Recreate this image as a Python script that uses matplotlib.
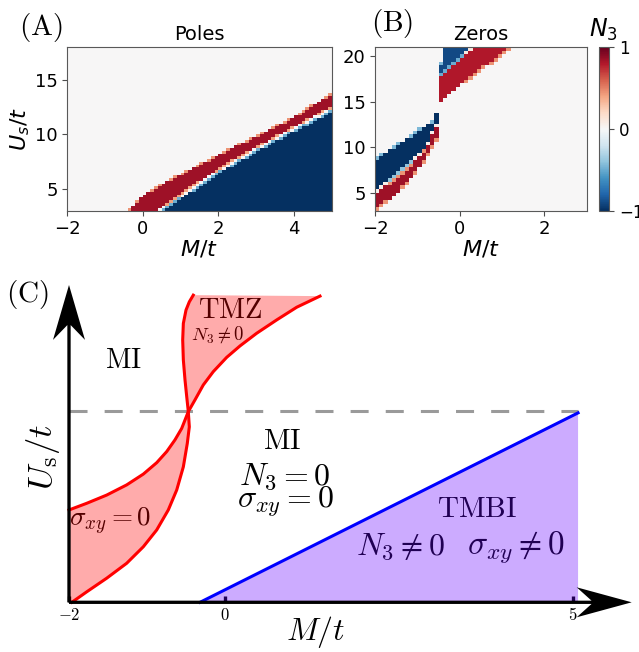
import numpy as np
import matplotlib

matplotlib.use("Agg")
import matplotlib.pyplot as plt

W, H = 639, 652

# ---- panel A (poles): band edges ----
A_M_RANGE = (-2, 5)
A_U_RANGE = (3, 18)
A_NM, A_NU = 70, 60
A_TOP_M = [-0.42, 0, 0.81, 1.61, 2.4, 3.2, 4.0, 5.0]
A_TOP_U = [3.0, 4.5, 6.1, 7.5, 8.95, 10.26, 11.7, 13.8]
A_LOW_M = [0.41, 1.34, 2.23, 3.11, 4.0, 5.0]
A_LOW_U = [3.0, 5.2, 7.2, 8.9, 10.57, 12.4]

# ---- panel B (zeros) ----
B_M_RANGE = (-2, 3)
B_U_RANGE = (3, 21)
B_NM, B_NU = 50, 45
B_TOP_M = [-2.0, -1.34, -0.635, -0.5]
B_TOP_U = [8.8, 10.8, 13.0, 14.4]
B_SPLIT_M = [-2.0, -1.65, -1.18, -0.79, -0.6, -0.5]
B_SPLIT_U = [5.17, 6.27, 8.1, 10.1, 12.1, 12.8]
B_RLOW_M = [-2.0, -1.89, -1.5, -1.1, -0.75, -0.5]
B_RLOW_U = [2.9, 3.4, 4.6, 6.8, 9.0, 11.2]
B_UP_M = [-0.52, -0.085, 0.386, 0.856, 1.25, 1.45]
B_UP_RED_LOW = [14.6, 16.3, 18.1, 19.4, 20.9, 21.6]
B_UP_SPLIT_M = [-0.52, -0.48, -0.16, 0.15, 0.3, 0.4]
B_UP_SPLIT = [17.2, 17.7, 19.0, 20.3, 20.9, 21.4]
B_UP_EDGE_M = [-0.52, -0.36]
B_UP_EDGE_U = [18.0, 20.8]
B_JUMP_M = -0.5

# ---- panel C (schematic phase diagram) ----
C_RED1_X = [-2.0, -1.754, -1.476, -1.199, -0.968, -0.782, -0.643, -0.528, -0.435, -0.343,
            -0.25, -0.135, 0.004, 0.19, 0.375, 0.607, 0.885, 1.163, 1.486]
C_RED1_Y = [0.291, 0.312, 0.338, 0.370, 0.404, 0.440, 0.475, 0.512, 0.548, 0.601,
            0.638, 0.685, 0.727, 0.772, 0.808, 0.848, 0.890, 0.930, 0.965]
C_RED2_X = [-1.96, -1.754, -1.476, -1.199, -0.968, -0.782, -0.621, -0.504, -0.412, -0.357, -0.329,
            -0.343, -0.365, -0.389, -0.412, -0.421, -0.412, -0.375, -0.329, -0.274]
C_RED2_Y = [0.0, 0.033, 0.076, 0.123, 0.175, 0.228, 0.291, 0.354, 0.427, 0.501, 0.553,
            0.601, 0.648, 0.701, 0.764, 0.827, 0.879, 0.921, 0.947, 0.968]
C_CROSS = (-0.343, 0.601)
C_BLUE_X = [-0.18, 5.07]
C_BLUE_Y = [0.0, 0.597]
C_DASH_Y = 0.604
C_XTICKS = [-2, 0.17, 5]
C_XTICKLABELS = ["$-2$", "$0$", "$5$"]


def box(x0, y0, x1, y1):
    return [x0 / W, 1 - y1 / H, (x1 - x0) / W, (y1 - y0) / H]


def centers(lo, hi, n):
    e = np.linspace(lo, hi, n + 1)
    return 0.5 * (e[1:] + e[:-1])


def grid_poles():
    M, U = np.meshgrid(centers(*A_M_RANGE, A_NM), centers(*A_U_RANGE, A_NU))
    top = np.interp(M, A_TOP_M, A_TOP_U, left=0)
    low = np.interp(M, A_LOW_M, A_LOW_U, left=0)
    z = np.zeros_like(M)
    z[U <= top] = 0.45
    z[U <= top - 0.15] = 0.85
    z[U <= low + 0.2] = 0.4
    z[U <= low + 0.05] = 0.0
    z[U <= low - 0.15] = -0.5
    z[U <= low - 0.35] = -1
    return z


def grid_zeros():
    M, U = np.meshgrid(centers(*B_M_RANGE, B_NM), centers(*B_U_RANGE, B_NU))
    bt = np.interp(M, B_TOP_M, B_TOP_U)
    sp = np.interp(M, B_SPLIT_M, B_SPLIT_U)
    rl = np.interp(M, B_RLOW_M, B_RLOW_U)
    zl = np.zeros_like(M)
    zl[U <= bt] = -0.45
    zl[U <= bt - 0.2] = -1
    zl[U <= sp + 0.2] = -0.4
    zl[U <= sp + 0.05] = 0.05
    zl[U <= sp - 0.15] = 0.45
    zl[U <= sp - 0.35] = 0.85
    zl[U <= rl + 0.2] = 0.45
    zl[U <= rl] = 0

    lo = np.interp(M, B_UP_M, B_UP_RED_LOW)
    spu = np.interp(M, B_UP_SPLIT_M, B_UP_SPLIT, right=99)
    edge = np.interp(M, B_UP_EDGE_M, B_UP_EDGE_U, right=99)
    zu = np.zeros_like(M)
    zu[U > lo] = 0.45
    zu[U > lo + 0.3] = 0.8
    zu[U > spu - 0.2] = 0.1
    zu[U > spu + 0.1] = -0.5
    zu[U > spu + 0.4] = -0.9
    zu[(U > edge - 0.3) & (U > spu)] = -0.45
    zu[(U > edge) & (U > spu)] = 0
    zu[U <= lo] = 0
    return np.where(M < B_JUMP_M, zl, zu)


def px2data(px, py):
    return -2 + (px - 69) / 72, (602.3 - py) / 317.3


def main():
    fig = plt.figure(figsize=(W / 100, H / 100), dpi=100)

    heat = dict(cmap="RdBu_r", vmin=-1, vmax=1, origin="lower", aspect="auto",
                interpolation="nearest")

    # (A) poles
    ax_a = fig.add_axes(box(67.3, 47.3, 331.7, 210.7))
    ax_a.imshow(grid_poles(), extent=(*A_M_RANGE, *A_U_RANGE), **heat)
    ax_a.set_xticks([-2, 0, 2, 4])
    ax_a.set_yticks([5, 10, 15])
    ax_a.set_title("Poles", fontsize=14, pad=5)
    ax_a.set_xlabel("$M/t$", fontsize=16, labelpad=0)
    ax_a.set_ylabel("$U_s/t$", fontsize=16, labelpad=2)

    # (B) zeros
    ax_b = fig.add_axes(box(375.3, 47.3, 586.7, 210.7))
    im = ax_b.imshow(grid_zeros(), extent=(*B_M_RANGE, *B_U_RANGE), **heat)
    ax_b.set_xticks([-2, 0, 2])
    ax_b.set_yticks([5, 10, 15, 20])
    ax_b.set_title("Zeros", fontsize=14, pad=5)
    ax_b.set_xlabel("$M/t$", fontsize=16, labelpad=0)

    for ax in (ax_a, ax_b):
        ax.tick_params(labelsize=13, color="0.3")
        for s in ax.spines.values():
            s.set_color("0.35")

    cax = fig.add_axes(box(599.3, 47.3, 609.3, 210.7))
    cb = fig.colorbar(im, cax=cax, ticks=[-1, 0, 1])
    cb.ax.tick_params(labelsize=12, color="0.3")
    cb.outline.set_edgecolor("0.35")
    fig.text(603 / W, 1 - 30 / H, "$N_3$", fontsize=17, ha="center", va="center")

    cm = dict(math_fontfamily="cm")
    for lab, px, py in [("A", 41, 28), ("B", 392, 23), ("C", 27, 294)]:
        fig.text(px / W, 1 - py / H, r"$\mathrm{(%s)}$" % lab, fontsize=21,
                 ha="center", va="center", **cm)

    # (C) schematic
    ax_c = fig.add_axes(box(69, 285, 631.7, 602.3))
    ax_c.set_xlim(-2, 5.815)
    ax_c.set_ylim(0, 1)
    for s in ax_c.spines.values():
        s.set_visible(False)
    ax_c.set_yticks([])
    ax_c.set_xticks(C_XTICKS, labels=C_XTICKLABELS)
    ax_c.tick_params(axis="x", direction="in", length=4, width=2.4, pad=3, labelsize=12)
    for lab in ax_c.get_xticklabels():
        lab.set_math_fontfamily("cm")

    i1 = C_RED1_X.index(C_CROSS[0])
    i2 = C_RED2_X.index(C_CROSS[0])
    low_x = C_RED1_X[:i1 + 1] + C_RED2_X[:i2 + 1][::-1] + [-2.0]
    low_y = C_RED1_Y[:i1 + 1] + C_RED2_Y[:i2 + 1][::-1] + [0.0]
    top_x = C_RED1_X[i1:] + C_RED2_X[i2:][::-1]
    top_y = C_RED1_Y[i1:] + C_RED2_Y[i2:][::-1]
    red_fill = dict(color=(1, 0, 0), alpha=0.33, lw=0, zorder=2)
    ax_c.fill(low_x, low_y, **red_fill)
    ax_c.fill(top_x, top_y, **red_fill)
    ax_c.fill(C_BLUE_X + [C_BLUE_X[1]], C_BLUE_Y + [0.0],
              color=(100 / 255, 0, 1), alpha=0.33, lw=0, zorder=2)

    ax_c.plot(C_RED1_X, C_RED1_Y, color="red", lw=2.2, zorder=3, clip_on=False)
    ax_c.plot(C_RED2_X, C_RED2_Y, color="red", lw=2.2, zorder=3, clip_on=False)
    ax_c.plot(C_BLUE_X, C_BLUE_Y, color="blue", lw=2.2, zorder=3, clip_on=False)
    ax_c.plot([-2, C_BLUE_X[1]], [C_DASH_Y, C_DASH_Y], color="#9a9a9a", lw=2.2,
              dashes=(5.9, 5.6), zorder=1)

    # axes arrows
    ax_c.arrow(-2, 0, 0, 1.0, width=0.046, head_width=0.444, head_length=0.173,
               length_includes_head=True, overhang=0.27, color="k", lw=0,
               zorder=5, clip_on=False)
    ax_c.arrow(-2, 0, 7.815, 0, width=0.0104, head_width=0.0945, head_length=0.764,
               length_includes_head=True, overhang=0.27, color="k", lw=0,
               zorder=5, clip_on=False)

    # region labels sit under the translucent fills, as in the original
    labels = [
        (r"$\mathrm{MI}$", 123, 360, 20),
        (r"$\mathrm{TMZ}$", 230, 310, 20.5),
        (r"$N_3\neq 0$", 217, 335, 13.5),
        (r"$\mathrm{MI}$", 282, 441, 21),
        (r"$\sigma_{xy} = 0$", 110, 521, 19.5),
        (r"$\mathrm{TMBI}$", 477, 509, 21),
        (r"$N_3\neq 0$", 400, 547, 23),
        (r"$\sigma_{xy}\neq 0$", 516, 547, 24),
    ]
    for txt, px, py, fs in labels:
        x, y = px2data(px, py)
        ax_c.text(x, y, txt, fontsize=fs, ha="center", va="center", zorder=1, **cm)
    x, y = px2data(285, 490)
    ax_c.text(x, y, "$N_3 = 0$\n$\\sigma_{xy} = 0$", fontsize=23, ha="center",
              va="center", multialignment="center", linespacing=0.62, zorder=1, **cm)

    fig.text(316 / W, 1 - 632 / H, "$M/t$", fontsize=23, ha="center", va="center", **cm)
    fig.text(43 / W, 1 - 457 / H, r"$U_\mathrm{s}/t$", fontsize=25, rotation=90,
             ha="center", va="center", **cm)

    fig.savefig("out.png", dpi=100)


if __name__ == "__main__":
    main()
